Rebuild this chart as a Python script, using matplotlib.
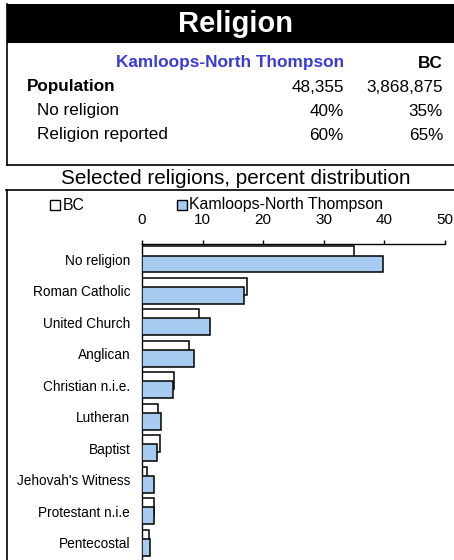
import numpy as np
import matplotlib
matplotlib.use("Agg")
import matplotlib.pyplot as plt
from matplotlib.lines import Line2D
from matplotlib.patches import Rectangle

plt.rcParams["font.family"] = ["Liberation Sans", "DejaVu Sans"]

# data
religions = ["No religion", "Roman Catholic", "United Church", "Anglican",
             "Christian n.i.e.", "Lutheran", "Baptist", "Jehovah's Witness",
             "Protestant n.i.e", "Pentecostal"]
bc = [35.0, 17.3, 9.4, 7.8, 5.2, 2.6, 2.9, 0.9, 2.0, 1.2]
kamloops = [39.7, 16.9, 11.3, 8.6, 5.1, 3.1, 2.5, 1.9, 1.9, 1.4]

region_name = "Kamloops-North Thompson"
summary_rows = ["Population", "No religion", "Religion reported"]
summary_region = ["48,355", "40%", "60%"]
summary_bc = ["3,868,875", "35%", "65%"]

W, H = 454, 560
fig = plt.figure(figsize=(W / 100, H / 100), dpi=100)


def fx(x):
    return x / W


def fy(y):
    return 1 - y / H


def hline(x0, x1, y, lw=1.2):
    fig.add_artist(Line2D([fx(x0), fx(x1)], [fy(y), fy(y)], color="black", lw=lw))


def vline(x, y0, y1, lw=1.2):
    fig.add_artist(Line2D([fx(x), fx(x)], [fy(y0), fy(y1)], color="black", lw=lw))


# header band
fig.add_artist(Rectangle((fx(7), fy(43)), fx(W) - fx(7), fy(4) - fy(43),
                         transform=fig.transFigure, color="black", lw=0))
fig.text(fx(235), fy(24), "Religion", color="white", fontsize=21,
         fontweight="bold", ha="center", va="center")

# summary table
fig.text(fx(344), fy(63), region_name, color="#3b3bd6", fontsize=12.4,
         fontweight="bold", ha="right", va="center")
fig.text(fx(443), fy(63), "BC", fontsize=12.4, fontweight="bold",
         ha="right", va="center")
row_y = [87, 111, 135]
for i, (lab, a, b) in enumerate(zip(summary_rows, summary_region, summary_bc)):
    bold = "bold" if i == 0 else "normal"
    x0 = 27 if i == 0 else 37
    fig.text(fx(x0), fy(row_y[i]), lab, fontsize=12.3, fontweight=bold,
             ha="left", va="center")
    fig.text(fx(344), fy(row_y[i]), a, fontsize=12.3, ha="right", va="center")
    fig.text(fx(443), fy(row_y[i]), b, fontsize=12.3, ha="right", va="center")

vline(7, 4, 165)
hline(7, W, 165)
fig.text(fx(236), fy(178), "Selected religions, percent distribution",
         fontsize=14.9, ha="center", va="center")
hline(6, W, 189.5)
vline(7, 189.5, H)

# chart
ax = fig.add_axes([fx(142), 0, fx(445) - fx(142), fy(243.7)])
pos = np.arange(len(religions))
h = 0.54
d = 0.29
ax.barh(pos - d / 2, bc, height=h, color="white", edgecolor="black",
        linewidth=1.1, zorder=2)
ax.barh(pos + d / 2, kamloops, height=h, color="#a6caf0", edgecolor="black",
        linewidth=1.1, zorder=3)
ax.set_xlim(0, 50)
ax.set_ylim(9.55, -0.5)
ax.set_yticks(pos)
ax.set_yticklabels(religions, fontsize=9.8)
ax.tick_params(axis="y", length=0, pad=8.5)
ax.xaxis.tick_top()
ax.set_xticks([0, 10, 20, 30, 40, 50])
ax.tick_params(axis="x", direction="out", length=3, width=1, labelsize=11,
               pad=9)
for s in ["right", "bottom"]:
    ax.spines[s].set_visible(False)
for s in ["top", "left"]:
    ax.spines[s].set_linewidth(1.0)
ax.patch.set_alpha(0)

# legend
fig.add_artist(Rectangle((fx(50), fy(210)), fx(10), fy(0) - fy(10),
                         transform=fig.transFigure, facecolor="white",
                         edgecolor="black", lw=1.0))
fig.text(fx(63), fy(205), "BC", fontsize=11.4, ha="left", va="center")
fig.add_artist(Rectangle((fx(177), fy(210)), fx(10), fy(0) - fy(10),
                         transform=fig.transFigure, facecolor="#a6caf0",
                         edgecolor="black", lw=1.0))
fig.text(fx(189), fy(205), region_name, fontsize=11.4, ha="left", va="center")

fig.savefig("out.png", dpi=100)
